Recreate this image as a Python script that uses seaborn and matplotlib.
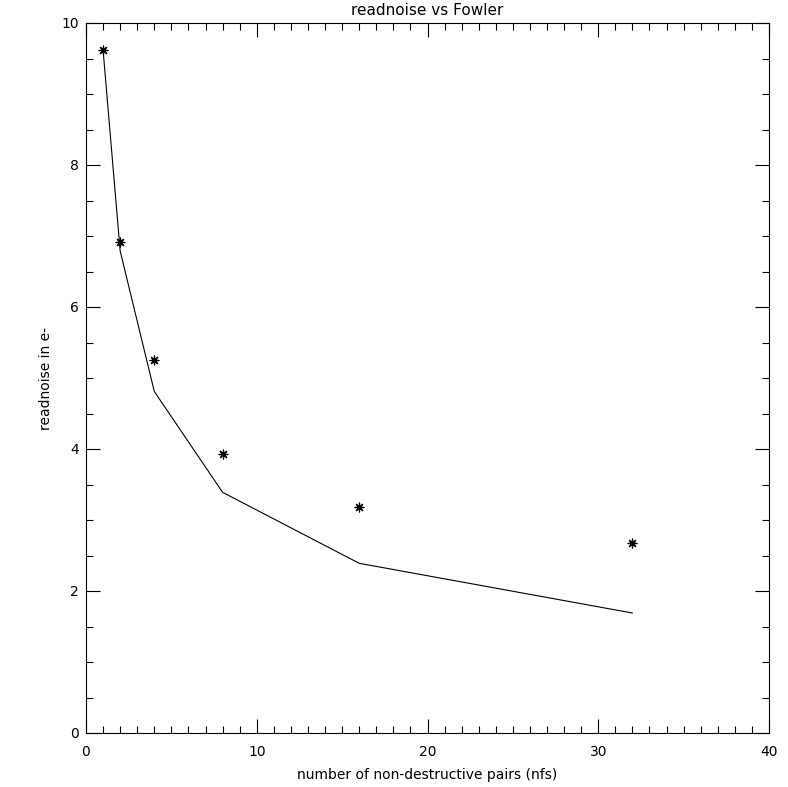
import matplotlib
matplotlib.use("Agg")
import matplotlib.pyplot as plt
import seaborn as sns
import pandas as pd
from matplotlib.ticker import MultipleLocator

# Data
nfs = [1, 2, 4, 8, 16, 32]
measured = [9.62, 6.91, 5.25, 3.93, 3.18, 2.68]
expected = [9.62, 6.79, 4.81, 3.39, 2.39, 1.69]

title = "readnoise vs Fowler"
xlabel = "number of non-destructive pairs (nfs)"
ylabel = "readnoise in e-"

df = pd.DataFrame({"nfs": nfs, "measured": measured, "expected": expected})

sns.set_style("ticks", rc={"text.color": "black", "axes.labelcolor": "black",
                           "xtick.color": "black", "ytick.color": "black",
                           "axes.edgecolor": "black"})
plt.rcParams["font.family"] = ["DejaVu Sans"]

fig = plt.figure(figsize=(7.88, 7.87), dpi=100)
ax = fig.add_axes([86 / 788, 1 - 733 / 787, (769 - 86) / 788, (733 - 23) / 787])

sns.lineplot(data=df, x="nfs", y="expected", ax=ax, color="black", linewidth=0.8)
sns.scatterplot(data=df, x="nfs", y="measured", ax=ax, color="black",
                marker=(8, 2, 0), s=40, linewidth=0.9, edgecolor="black")

ax.set_xlim(0, 40)
ax.set_ylim(0, 10)
ax.xaxis.set_major_locator(MultipleLocator(10))
ax.xaxis.set_minor_locator(MultipleLocator(1))
ax.yaxis.set_major_locator(MultipleLocator(2))
ax.yaxis.set_minor_locator(MultipleLocator(0.5))

ax.tick_params(which="both", direction="in", top=True, right=True,
               colors="black", labelsize=10, width=0.8)
ax.tick_params(which="major", length=10)
ax.tick_params(which="minor", length=5)
ax.tick_params(axis="x", which="major", pad=9)
ax.tick_params(axis="y", which="major", pad=5)

for sp in ax.spines.values():
    sp.set_visible(True)
    sp.set_linewidth(0.8)
    sp.set_color("black")

ax.set_title(title, fontsize=11, pad=6, color="black")
ax.set_xlabel(xlabel, fontsize=10, labelpad=6, color="black")
ax.set_ylabel(ylabel, fontsize=10, labelpad=6, color="black")

fig.savefig("out.png", dpi=100)
